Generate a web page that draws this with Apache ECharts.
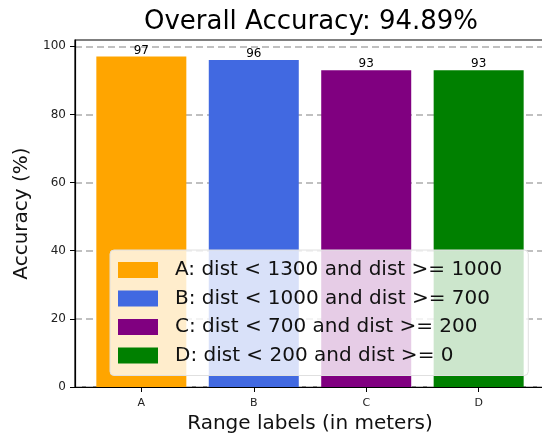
<!DOCTYPE html>
<html><head><meta charset="utf-8">
<script src="https://cdn.jsdelivr.net/npm/echarts@6/dist/echarts.min.js"></script>
<style>html,body{margin:0;padding:0;background:#fff}#c{width:542px;height:434px}</style>
</head><body><div id="c"></div>
<script>
const categories = ['A', 'B', 'C', 'D'];
const accuracies = [97, 96, 93, 93];
const legendNames = ['A: dist < 1300 and dist >= 1000', 'B: dist < 1000 and dist >= 700', 'C: dist < 700 and dist >= 200', 'D: dist < 200 and dist >= 0'];
const colors = ['#FFA500', '#4169E1', '#800080', '#008000'];
const titleText = 'Overall Accuracy: 94.89%';
const yTicks = [0, 20, 40, 60, 80, 100];

const FONT = 'DejaVu Sans';
const chart = echarts.init(document.getElementById('c'), null, {renderer: 'canvas'});
const series = categories.map((c, i) => ({
  name: legendNames[i],
  type: 'bar',
  barWidth: 90,
  barGap: '-100%',
  itemStyle: {color: colors[i]},
  label: {show: true, position: 'top', distance: 0, color: '#000', fontSize: 12, fontFamily: FONT},
  data: [[i, accuracies[i]]]
}));
chart.setOption({
  animation: false,
  textStyle: {fontFamily: FONT},
  title: {text: titleText, left: 306, textAlign: 'center', top: 4,
    textStyle: {fontSize: 26, fontWeight: 'normal', color: '#000', fontFamily: FONT}},
  grid: {left: 75, right: -3, top: 40, bottom: 47, containLabel: false, outerBoundsMode: 'none',
    show: true, borderColor: '#000', borderWidth: 1.2},
  legend: {
    orient: 'vertical', left: 110, top: 250,
    backgroundColor: 'rgba(255,255,255,0.8)', borderColor: '#e0e0e0', borderWidth: 1, borderRadius: 4,
    padding: [10, 26, 10, 8], itemWidth: 40, itemHeight: 16, itemGap: 8.5,
    icon: 'rect',
    textStyle: {fontSize: 20, color: '#111', fontFamily: FONT, padding: [0, 0, 0, 12]},
    data: legendNames
  },
  xAxis: {
    type: 'value', min: -0.59, max: 3.59,
    name: 'Range labels (in meters)', nameLocation: 'middle', nameGap: 27,
    nameTextStyle: {fontSize: 20, color: '#111', fontFamily: FONT},
    axisLine: {show: true, onZero: false, lineStyle: {color: '#000', width: 1.2}},
    axisTick: {show: true, customValues: [0, 1, 2, 3], length: 5, lineStyle: {color: '#000'}},
    axisLabel: {customValues: [0, 1, 2, 3], formatter: v => categories[Math.round(v)], fontSize: 11, color: '#222', margin: 11},
    splitLine: {show: false}
  },
  yAxis: {
    type: 'value', min: 0, max: 101.85, interval: 20,
    name: 'Accuracy (%)', nameLocation: 'middle', nameGap: 34,
    nameTextStyle: {fontSize: 20, color: '#111', fontFamily: FONT},
    axisLine: {show: true, onZero: false, lineStyle: {color: '#000', width: 1.2}},
    axisTick: {show: true, customValues: yTicks, length: 5, lineStyle: {color: '#000'}},
    axisLabel: {customValues: yTicks, fontSize: 12, color: '#222', margin: 9},
    splitLine: {show: true, lineStyle: {color: '#c0c0c0', width: 2, type: [7, 4]}}
  },
  series: series
});
</script></body></html>
